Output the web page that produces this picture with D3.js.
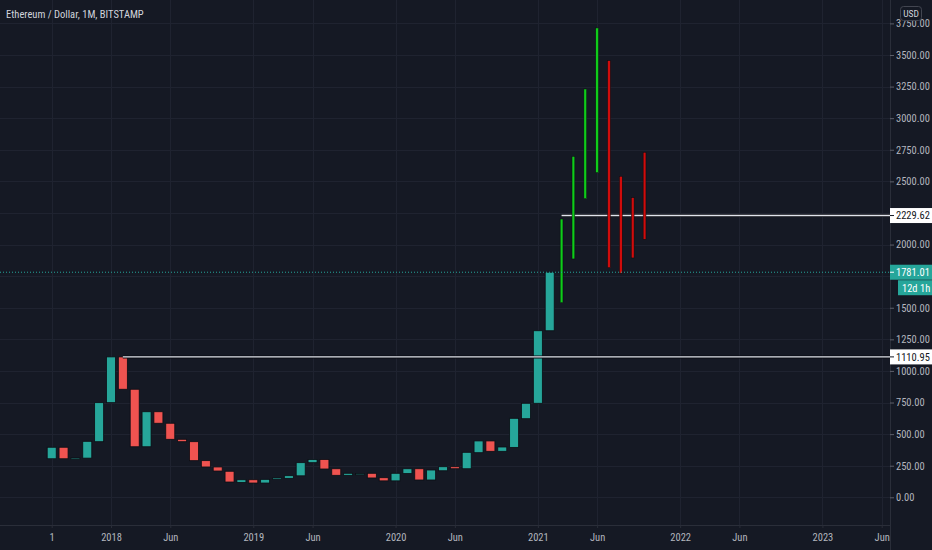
<!DOCTYPE html>
<html><head><meta charset="utf-8">
<script src="https://cdn.jsdelivr.net/npm/d3@7"></script>
<style>
html,body{margin:0;padding:0;background:#151924;}
svg{display:block;}
text{font-family:"Liberation Sans Narrow","Roboto Condensed","Liberation Sans",sans-serif;}
</style></head>
<body>
<svg id="chart" width="932" height="550"></svg>
<script>
// ---- data ----
const months = ["2017-08","2017-09","2017-10","2017-11","2017-12","2018-01","2018-02","2018-03","2018-04","2018-05","2018-06","2018-07","2018-08","2018-09","2018-10","2018-11","2018-12","2019-01","2019-02","2019-03","2019-04","2019-05","2019-06","2019-07","2019-08","2019-09","2019-10","2019-11","2019-12","2020-01","2020-02","2020-03","2020-04","2020-05","2020-06","2020-07","2020-08","2020-09","2020-10","2020-11","2020-12","2021-01","2021-02"];
const openVals  = [305,396,305,310,440,749,1111,855,400,677,586,459,440,290,240,206,118,139,113,142,150,170,274,299,226,174,181,190,155,130,188,226,137,210,242,226,353,446,364,395,622,744,1318];
const closeVals = [396,305,311,443,749,1111,855,400,677,586,459,440,290,240,208,121,139,113,142,153,171,274,299,224,174,190,188,153,130,190,226,137,216,242,226,356,446,364,398,625,744,1318,1781.01];
// projected monthly ranges (drawn bars), Mar 2021 onward
const projMonths = ["2021-03","2021-04","2021-05","2021-06","2021-07","2021-08","2021-09","2021-10"];
const projHigh = [2202,2698,3231,3714,3455,2540,2371,2730];
const projLow  = [1540,1886,2363,2569,1817,1773,1894,2042];
const projUp   = [true,true,true,true,false,false,false,false];
const priceTicks = [0,250,500,750,1000,1250,1500,1750,2000,2250,2500,2750,3000,3250,3500,3750];
const priceTickLabels = [0,250,500,750,1000,1250,1500,2000,2500,2750,3000,3250,3500,3750];
const timeTickIdx = [0,5,10,17,22,29,34,41,46,53,58,65,70];
const timeTickLabels = ["1","2018","Jun","2019","Jun","2020","Jun","2021","Jun","2022","Jun","2023","Jun"];
const levels = [1110.95, 2229.62];
const levelStartIdx = [6, 43];
const lastPrice = 1781.01;
const countdown = "12d 1h";
const title = "Ethereum / Dollar, 1M, BITSTAMP";

// ---- layout ----
const W = 932, H = 550, plotR = 890, plotB = 525;
const svg = d3.select("#chart");
const x = d3.scaleLinear().domain([0, 70]).range([51.7, 881.7]);
const y = d3.scaleLinear().domain([0, 3750]).range([497.3, 23.4]);

svg.append("rect").attr("width", W).attr("height", H).attr("fill", "#151924");

const grid = svg.append("g");
grid.selectAll("line.h").data(priceTicks).enter().append("line")
  .attr("x1", 0).attr("x2", plotR).attr("y1", d => Math.round(y(d)) + 0.5).attr("y2", d => Math.round(y(d)) + 0.5)
  .attr("stroke", "#1f2330").attr("stroke-width", 1);
grid.selectAll("line.v").data(timeTickIdx).enter().append("line")
  .attr("x1", d => Math.round(x(d)) + 0.5).attr("x2", d => Math.round(x(d)) + 0.5).attr("y1", 0).attr("y2", plotB)
  .attr("stroke", "#1f2330").attr("stroke-width", 1);

// candles
const candles = months.map((m, i) => ({m, i, o: openVals[i], c: closeVals[i]}));
const bw = 9;
svg.append("g").selectAll("rect").data(candles).enter().append("rect")
  .attr("x", d => x(d.i) - bw / 2)
  .attr("width", bw)
  .attr("y", d => y(Math.max(d.o, d.c)))
  .attr("height", d => Math.max(1.2, Math.abs(y(d.o) - y(d.c))))
  .attr("fill", d => d.c >= d.o ? "#26a69a" : "#ef5350")
  .attr("stroke", "#0c0e14").attr("stroke-width", 0.8);

// horizontal levels
levels.forEach((lv, k) => {
  svg.append("line").attr("x1", x(levelStartIdx[k])).attr("x2", plotR)
    .attr("y1", y(lv)).attr("y2", y(lv)).attr("stroke", "#0b0d12").attr("stroke-width", 3);
  svg.append("line").attr("x1", x(levelStartIdx[k])).attr("x2", plotR)
    .attr("y1", y(lv)).attr("y2", y(lv)).attr("stroke", "#e0e3eb").attr("stroke-width", 1.4);
});

// projected bars
const proj = projMonths.map((m, k) => ({i: months.length + k, h: projHigh[k], l: projLow[k], up: projUp[k]}));
svg.append("g").selectAll("rect").data(proj).enter().append("rect")
  .attr("x", d => x(d.i) - 1.4).attr("width", 2.8)
  .attr("y", d => y(d.h)).attr("height", d => y(d.l) - y(d.h))
  .attr("fill", d => d.up ? "#0fcc1a" : "#d00c0c")
  .attr("stroke", "#0a0c10").attr("stroke-width", 0.5);

// last price dotted line
svg.append("line").attr("x1", 0).attr("x2", plotR).attr("y1", y(lastPrice)).attr("y2", y(lastPrice))
  .attr("stroke", "#26a69a").attr("stroke-width", 1).attr("stroke-dasharray", "1,2");

// right price axis
svg.append("rect").attr("x", plotR).attr("y", 0).attr("width", W - plotR).attr("height", H).attr("fill", "#151924");
svg.append("line").attr("x1", plotR + 0.5).attr("x2", plotR + 0.5).attr("y1", 0).attr("y2", H).attr("stroke", "#2a2e39");
const yAxis = d3.axisRight(y).tickValues(priceTickLabels).tickSize(4).tickPadding(2).tickFormat(d3.format(".2f"));
const ya = svg.append("g").attr("transform", `translate(${plotR},0)`).call(yAxis);
ya.select(".domain").remove();
ya.selectAll(".tick line").attr("stroke", "#5d606b");
ya.selectAll(".tick text").attr("fill", "#b2b5be").attr("font-size", 10.5)
  .attr("font-family", '"Liberation Sans Narrow","Liberation Sans",sans-serif');

// bottom time axis
svg.append("rect").attr("x", 0).attr("y", plotB).attr("width", plotR).attr("height", H - plotB).attr("fill", "#151924");
svg.append("line").attr("x1", 0).attr("x2", plotR).attr("y1", plotB + 0.5).attr("y2", plotB + 0.5).attr("stroke", "#2a2e39");
const xAxis = d3.axisBottom(x).tickValues(timeTickIdx).tickSize(3).tickPadding(6)
  .tickFormat((d, i) => timeTickLabels[i]);
const xa = svg.append("g").attr("transform", `translate(0,${plotB})`).call(xAxis);
xa.select(".domain").remove();
xa.selectAll(".tick line").attr("stroke", "#2a2e39");
xa.selectAll(".tick text").attr("fill", "#b2b5be").attr("font-size", 10.5)
  .attr("font-family", '"Liberation Sans Narrow","Liberation Sans",sans-serif');

// price labels on axis
function priceTag(val, txt, bg, fg, yOff, xStart) {
  const yc = y(val) + (yOff || 0);
  const g = svg.append("g");
  g.append("rect").attr("x", xStart || plotR).attr("y", yc - 7.5).attr("width", W - (xStart || plotR)).attr("height", 15)
    .attr("fill", bg);
  if (!xStart) g.append("line").attr("x1", plotR).attr("x2", plotR + 4).attr("y1", yc).attr("y2", yc).attr("stroke", fg);
  g.append("text").attr("x", (xStart || plotR) + (xStart ? 4 : 6)).attr("y", yc + 3.8).attr("fill", fg)
    .attr("font-size", 10.5).text(txt);
}
priceTag(levels[1], d3.format(".2f")(levels[1]), "#ffffff", "#131722");
priceTag(levels[0], d3.format(".2f")(levels[0]), "#ffffff", "#131722");
priceTag(lastPrice, d3.format(".2f")(lastPrice), "#26a69a", "#ffffff");
priceTag(lastPrice, countdown, "#26a69a", "#ffffff", 15.5, 898);

// USD label
svg.append("rect").attr("x", 900.5).attr("y", 6.5).attr("width", 21).attr("height", 14).attr("rx", 3)
  .attr("fill", "#151924").attr("stroke", "#434651");
svg.append("text").attr("x", 911).attr("y", 17).attr("text-anchor", "middle").attr("fill", "#d1d4dc")
  .attr("font-size", 9.5).text("USD");

// title
svg.append("text").attr("x", 6).attr("y", 18).attr("fill", "#d1d4dc").attr("font-size", 10.5)
  .attr("font-family", '"Liberation Sans Narrow","Liberation Sans",sans-serif').text(title);
</script>
</body></html>
